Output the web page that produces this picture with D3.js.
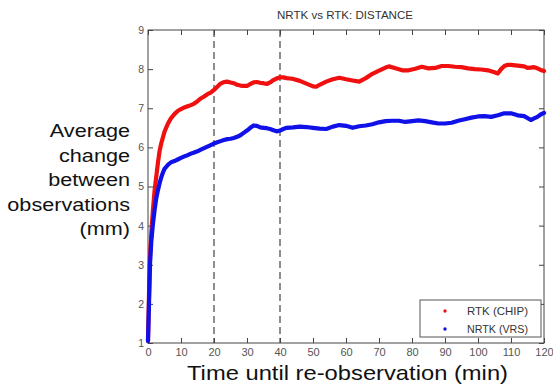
<!DOCTYPE html>
<html><head><meta charset="utf-8">
<script src="https://cdn.jsdelivr.net/npm/d3@7"></script>
<style>body{margin:0;background:#fff;}svg{display:block;font-family:"Liberation Sans",Arial,sans-serif;}</style>
</head><body>
<svg id="c" width="553" height="387"></svg>
<script>
const title = "NRTK vs RTK: DISTANCE";
const xLabel = "Time until re-observation (min)";
const yLabelLines = ["Average", "change", "between", "observations", "(mm)"];
const xTicks = [0,10,20,30,40,50,60,70,80,90,100,110,120];
const yTicks = [1,2,3,4,5,6,7,8,9];
const markerTimes = [20, 40];
const seriesNames = ["RTK (CHIP)", "NRTK (VRS)"];
const seriesColors = ["#f01010", "#1010e8"];

const rtkTime = [0,0.3,0.6,1,1.5,2,2.5,3,3.5,4,4.5,5,6,7,8,9,10,11,12,13,14,15,16,17,18,19,20,21,22,23,24,25,26,27,28,29,30,31,32,33,34,35,36,37,38,39,40,41,42,43,44,46,48,50,51,52,54,56,58,60,62,64,66,68,70,72,73,75,77,79,81,83,85,87,89,91,93,95,97,99,101,103,105,106,107,108,109,110,112,114,115,116,117,118,119,120];
const rtkValues = [1.05,2.2,3.2,3.8,4.4,4.9,5.25,5.6,5.9,6.1,6.25,6.4,6.6,6.75,6.85,6.93,6.98,7.02,7.05,7.08,7.12,7.18,7.25,7.3,7.36,7.4,7.47,7.55,7.63,7.67,7.68,7.66,7.64,7.6,7.58,7.57,7.57,7.62,7.66,7.67,7.65,7.64,7.62,7.66,7.72,7.76,7.79,7.79,7.77,7.76,7.75,7.7,7.63,7.56,7.55,7.6,7.68,7.74,7.78,7.74,7.71,7.68,7.77,7.88,7.96,8.04,8.07,8.02,7.97,7.97,8.01,8.06,8.02,8.03,8.08,8.08,8.06,8.05,8.02,8.0,7.99,7.97,7.92,7.89,8.0,8.08,8.11,8.11,8.09,8.07,8.03,8.04,8.05,8.02,7.98,7.95];

const nrtkTime = [0,0.3,0.6,1,1.5,2,2.5,3,3.5,4,4.5,5,6,7,8,9,10,11,12,13,14,15,16,17,18,19,20,21,22,23,24,25,26,27,28,29,30,31,32,33,34,35,36,37,38,39,40,41,42,44,46,48,50,52,54,56,58,60,62,64,66,68,70,72,74,76,78,80,82,84,86,88,90,92,94,96,98,100,102,104,106,108,110,112,114,116,117,118,119,120];
const nrtkValues = [1.05,2.0,3.0,3.6,4.05,4.4,4.7,4.9,5.08,5.23,5.35,5.45,5.55,5.62,5.65,5.69,5.73,5.77,5.8,5.84,5.87,5.9,5.94,5.98,6.02,6.06,6.1,6.13,6.16,6.19,6.21,6.22,6.24,6.27,6.31,6.37,6.43,6.5,6.56,6.55,6.51,6.5,6.49,6.47,6.44,6.41,6.43,6.47,6.5,6.51,6.53,6.52,6.5,6.48,6.47,6.53,6.57,6.55,6.5,6.54,6.56,6.59,6.64,6.67,6.68,6.68,6.65,6.67,6.69,6.67,6.64,6.61,6.61,6.63,6.68,6.72,6.76,6.79,6.8,6.78,6.82,6.87,6.87,6.82,6.8,6.7,6.74,6.78,6.84,6.88];

const svg = d3.select("#c");
const L = 148, R = 544, T = 30, B = 343;
const x = d3.scaleLinear().domain([0,120]).range([L,R]);
const y = d3.scaleLinear().domain([1,9]).range([B,T]);
const axisColor = "#444", tickText = "#555";

svg.append("rect").attr("x",L).attr("y",T).attr("width",R-L).attr("height",B-T)
  .attr("fill","none").attr("stroke",axisColor).attr("stroke-width",1);

function styleAxis(g, fs){
  g.select(".domain").remove();
  g.selectAll(".tick line").attr("stroke",axisColor);
  g.selectAll(".tick text").attr("fill",tickText).attr("font-size",fs).attr("font-family","Liberation Sans, Arial, sans-serif");
}
const gx = svg.append("g").attr("transform",`translate(0,${B})`)
  .call(d3.axisBottom(x).tickValues(xTicks).tickSize(-5).tickFormat(d3.format("d")));
styleAxis(gx, 11);
gx.selectAll(".tick text").attr("y",5);
const gxt = svg.append("g").attr("transform",`translate(0,${T})`)
  .call(d3.axisTop(x).tickValues(xTicks).tickSize(-5).tickFormat(""));
styleAxis(gxt, 10);
const gy = svg.append("g").attr("transform",`translate(${L},0)`)
  .call(d3.axisLeft(y).tickValues(yTicks).tickSize(-5).tickFormat(d3.format("d")));
styleAxis(gy, 10.5);
gy.selectAll(".tick text").attr("x",-4);
const gyr = svg.append("g").attr("transform",`translate(${R},0)`)
  .call(d3.axisRight(y).tickValues(yTicks).tickSize(-5).tickFormat(""));
styleAxis(gyr, 10);

svg.selectAll("line.mk").data(markerTimes).enter().append("line")
  .attr("x1",d=>x(d)).attr("x2",d=>x(d)).attr("y1",T).attr("y2",B)
  .attr("stroke","#444").attr("stroke-width",1.2).attr("stroke-dasharray","7,4");

const line = d3.line().x(d=>x(d[0])).y(d=>y(d[1])).curve(d3.curveLinear);
const series = [
  {name: seriesNames[0], color: seriesColors[0], pts: d3.zip(rtkTime, rtkValues)},
  {name: seriesNames[1], color: seriesColors[1], pts: d3.zip(nrtkTime, nrtkValues)}
];
svg.selectAll("path.s").data(series).enter().append("path")
  .attr("d",d=>line(d.pts)).attr("fill","none").attr("stroke",d=>d.color)
  .attr("stroke-width",4.2).attr("stroke-linejoin","round").attr("stroke-linecap","round");

svg.append("text").attr("x",345).attr("y",19).attr("text-anchor","middle")
  .attr("font-size",10.5).attr("fill","#333")
  .attr("textLength",136).attr("lengthAdjust","spacingAndGlyphs").text(title);

svg.append("text").attr("x",347.5).attr("y",380).attr("text-anchor","middle")
  .attr("font-size",21).attr("fill","#111")
  .attr("textLength",321).attr("lengthAdjust","spacingAndGlyphs").text(xLabel);

const yl = svg.append("g").attr("transform","translate(130,0) scale(1.17,1)");
yl.selectAll("text").data(yLabelLines).enter().append("text")
  .attr("x",0).attr("y",(d,i)=>137.5+i*24.4).attr("text-anchor","end")
  .attr("font-size",18.5).attr("fill","#111").text(d=>d);

const lg = svg.append("g");
lg.append("rect").attr("x",420).attr("y",300).attr("width",121).attr("height",37)
  .attr("fill","#fff").attr("stroke","#555").attr("stroke-width",1);
const items = lg.selectAll("g.it").data(series).enter().append("g")
  .attr("transform",(d,i)=>`translate(0,${311+i*18})`);
items.append("circle").attr("cx",445).attr("cy",0).attr("r",1.7).attr("fill",d=>d.color);
items.append("text").attr("x",467).attr("y",0).attr("dy","0.35em")
  .attr("font-size",11).attr("fill","#333")
  .attr("textLength",61).attr("lengthAdjust","spacingAndGlyphs").text(d=>d.name);
</script>
</body></html>
